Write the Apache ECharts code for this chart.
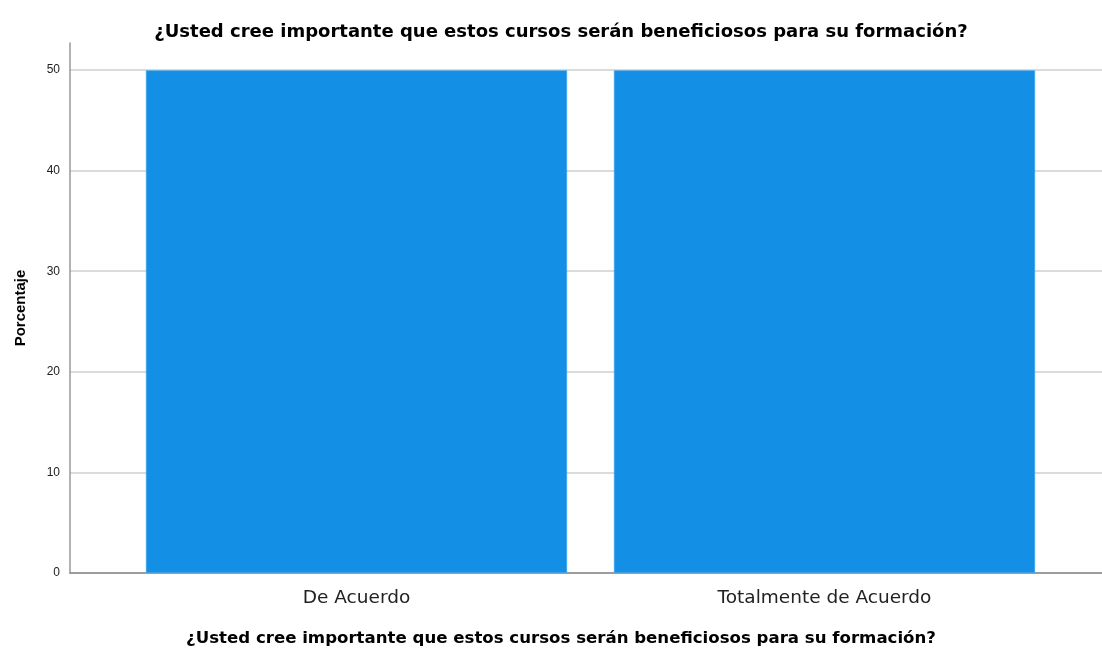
<!DOCTYPE html>
<html>
<head>
<meta charset="utf-8">
<script src="https://cdn.jsdelivr.net/npm/echarts@6/dist/echarts.min.js"></script>
<style>
  html, body { margin: 0; padding: 0; background: #fff; }
  #chart { width: 1102px; height: 648px; }
</style>
</head>
<body>
<div id="chart"></div>
<script>
const titleText = '¿Usted cree importante que estos cursos serán beneficiosos para su formación?'
const categories = ['De Acuerdo', 'Totalmente de Acuerdo']
const percentages = [50, 50]
const yTicks = [0, 10, 20, 30, 40, 50]

const chart = echarts.init(document.getElementById('chart'))
const font = '"Liberation Sans", Arial, sans-serif'
const wide = '"DejaVu Sans", sans-serif'

chart.setOption({
  animation: false,
  textStyle: { fontFamily: font },
  title: [
    {
      text: titleText,
      left: 556, top: 18, textAlign: 'center',
      textStyle: { fontSize: 18, fontWeight: 'bold', color: '#000', fontFamily: wide },
    },
    {
      text: titleText,
      left: 556, top: 625, textAlign: 'center',
      textStyle: { fontSize: 16.6, fontWeight: 'bold', color: '#000', fontFamily: wide },
    },
  ],
  grid: [
    // bars
    { left: 122.5, width: 936, top: 43, bottom: 75 },
    // frame, ticks and gridlines
    { left: 70, right: 0, top: 70, bottom: 75 },
  ],
  xAxis: [
    {
      type: 'category', gridIndex: 0, data: categories,
      axisLine: { show: false }, axisTick: { show: false },
      axisLabel: { fontSize: 18.5, color: '#222', margin: 16, fontFamily: wide },
    },
    {
      type: 'value', gridIndex: 1, min: 0, max: 1,
      axisLine: { show: true, lineStyle: { color: '#888', width: 1.5 } },
      axisTick: { show: false }, axisLabel: { show: false }, splitLine: { show: false },
    },
  ],
  yAxis: [
    {
      type: 'value', gridIndex: 0, min: 0, max: 52.7,
      position: 'left', offset: 52.5,
      axisLine: { show: true, lineStyle: { color: '#999', width: 1.5 } },
      axisTick: { show: false }, axisLabel: { show: false }, splitLine: { show: false },
      name: 'Porcentaje', nameLocation: 'middle', nameGap: 42,
      nameTextStyle: { fontSize: 15, fontWeight: 'bold', color: '#000' },
    },
    {
      type: 'value', gridIndex: 1, min: 0, max: yTicks[yTicks.length - 1], interval: 10,
      axisLine: { show: false }, axisTick: { show: false },
      axisLabel: { fontSize: 12, color: '#222', margin: 10 },
      splitLine: { show: true, lineStyle: { color: '#cfcfcf', width: 1.5 } },
    },
  ],
  series: [
    {
      type: 'bar', xAxisIndex: 0, yAxisIndex: 0,
      data: percentages,
      barCategoryGap: '10%',
      itemStyle: { color: '#1390e6', borderColor: '#5fb3ee', borderWidth: 0.5 },
    },
  ],
})
</script>
</body>
</html>
